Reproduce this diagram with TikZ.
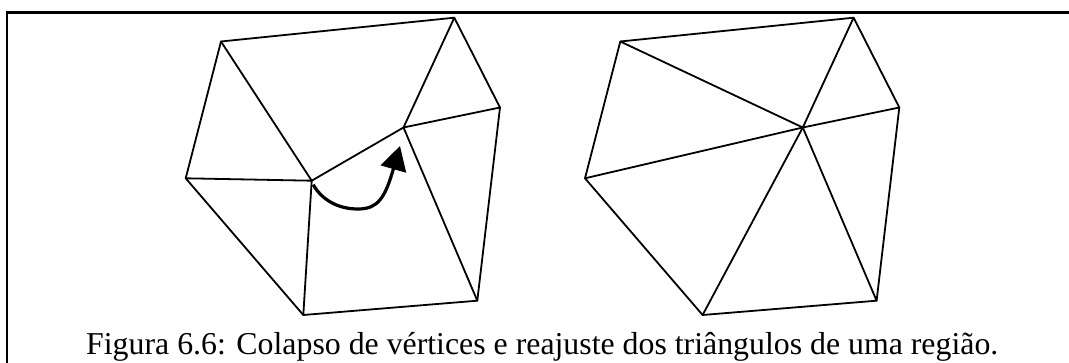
\documentclass[tikz,border=0pt]{standalone}
\usepackage{fontspec}
\usepackage{graphicx}
\setmainfont{Liberation Serif}
\usetikzlibrary{arrows.meta}
\begin{document}
\begin{tikzpicture}[x=1pt,y=-1pt,
  edge/.style={line width=1.8pt, line join=round, line cap=round},
  frameline/.style={line width=2.2pt},
  movearrow/.style={line width=3.2pt, -{Triangle[length=24pt,width=26pt]}}]
\useasboundingbox (0,0) rectangle (1069,363);
% frame
\coordinate (f1) at (6.7,370);
\coordinate (f2) at (6.7,12.5);
\coordinate (f3) at (1075,12.5);
\draw[frameline] (f1) -- (f2) -- (f3);
% left mesh
\coordinate (A) at (221,41.5);
\coordinate (B) at (454.3,17.7);
\coordinate (C) at (500,107.5);
\coordinate (D) at (403.5,127.5);
\coordinate (E) at (311.7,180.7);
\coordinate (F) at (185.7,178.3);
\coordinate (G) at (303.3,315);
\coordinate (H) at (477.3,300.7);
\draw[edge] (A) -- (B) -- (C) -- (H) -- (G) -- (F) -- cycle;
\draw[edge] (A) -- (E) -- (F);
\draw[edge] (E) -- (G);
\draw[edge] (E) -- (D) -- (B);
\draw[edge] (C) -- (D) -- (H);
% arrow
\coordinate (tip) at (400,146);
\coordinate (low) at (358,209);
\draw[movearrow] ([shift={(1.5,4)}]E) .. controls (322,200) and (338,209) .. (low)
  .. controls (378,209) and (385,198) .. (tip);
% right mesh
\begin{scope}[xshift=399.3pt]
\coordinate (A2) at (221,41.5);
\coordinate (B2) at (454.3,17.7);
\coordinate (C2) at (500,107.5);
\coordinate (D2) at (403.5,127.5);
\coordinate (F2) at (185.7,178.3);
\coordinate (G2) at (303.3,315);
\coordinate (H2) at (477.3,300.7);
\end{scope}
\draw[edge] (A2) -- (B2) -- (C2) -- (H2) -- (G2) -- (F2) -- cycle;
\foreach \v in {A2,B2,C2,F2,G2,H2} \draw[edge] (D2) -- (\v);
% caption
\node[anchor=base west, inner sep=0pt] (cap) at (86,355) {\resizebox{912pt}{!}{Figura 6.6: Colapso de vértices e reajuste dos triângulos de uma região.}};
\end{tikzpicture}
\end{document}
